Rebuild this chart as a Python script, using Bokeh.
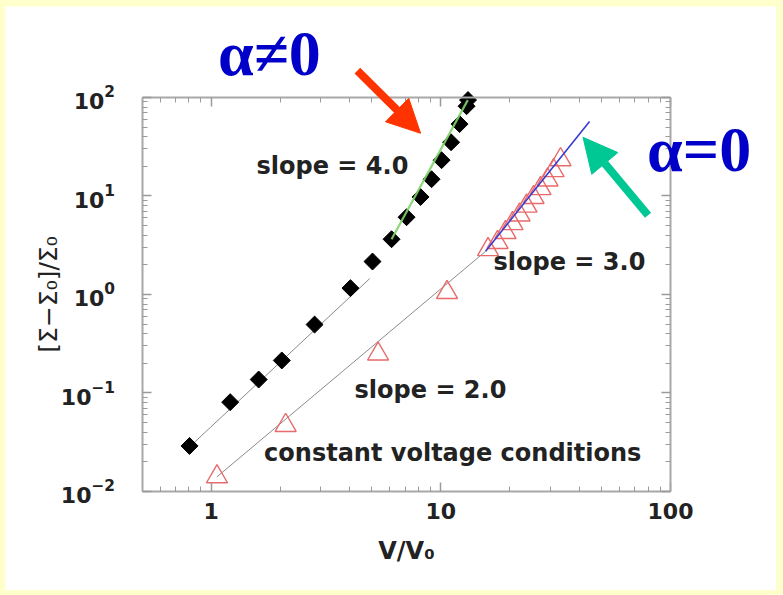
import numpy as np
from bokeh.plotting import figure
from bokeh.models import (LogAxis, FixedTicker, LogTickFormatter, BasicTickFormatter,
                          CustomJSTickFormatter, Label, Arrow, NormalHead, Range1d)
from bokeh.embed import file_html
from bokeh.resources import INLINE

# ---------------- data ----------------
diamond_v = [0.805, 1.21, 1.61, 2.03, 2.82, 4.04, 5.04, 6.10, 7.09, 8.16,
             9.11, 10.07, 11.08, 12.06, 12.94, 13.13]
diamond_s = [0.029, 0.0807, 0.137, 0.214, 0.495, 1.16, 2.16, 3.64, 6.09, 9.77,
             14.8, 23.1, 35.1, 53.7, 81.6, 94.2]

triangle_v = [1.06, 2.11, 5.33, 10.64, 16.05, 17.65, 19.12, 20.52, 22.01, 23.61,
              25.33, 27.16, 29.14, 30.95, 33.2]
triangle_s = [0.01414, 0.0469, 0.249, 1.05, 2.86, 3.38, 4.27, 5.25, 6.43, 7.90,
              9.68, 11.89, 14.57, 18.1, 23.4]

# fitted power-law lines (end points)
fit_black_v = [0.80, 4.90]
fit_black_s = [0.028, 1.45]
fit_green_v = [6.10, 13.1]
fit_green_s = [3.64, 94.0]
fit_tri_v = [1.06, 15.65]
fit_tri_s = [0.0141, 2.74]
fit_blue_v = [15.65, 44.4]
fit_blue_s = [2.74, 57.2]

# axis box limits and ticks
x_box = (0.5, 100)
y_box = (0.01, 100)
x_major = [1, 10, 100]
x_minor = [0.5, 0.6, 0.7, 0.8, 0.9, 2, 3, 4, 5, 6, 7, 8, 9,
           20, 30, 40, 50, 60, 70, 80, 90]
y_major = [0.01, 0.1, 1, 10, 100]
y_minor = [m * d for d in [0.01, 0.1, 1, 10] for m in range(2, 10)]

# visible (canvas-wide) ranges so that the annotations outside the axis box show
x_view = (0.1272, 289.3)
y_view = (0.000988, 839.0)

# ---------------- figure ----------------
p = figure(width=771, height=584, x_axis_type="log", y_axis_type="log",
           x_axis_location=None, y_axis_location=None,
           x_range=Range1d(*x_view), y_range=Range1d(*y_view),
           output_backend="svg", toolbar_location=None, min_border=0)
p.background_fill_color = "white"
p.border_fill_color = "white"
p.outline_line_color = None
p.grid.visible = False

TICK = "#9a9a9a"
FONT = "DejaVu Sans"


def style_axis(ax):
    ax.major_tick_in = 9
    ax.major_tick_out = 0
    ax.minor_tick_in = 5
    ax.minor_tick_out = 0
    ax.major_tick_line_color = TICK
    ax.minor_tick_line_color = TICK
    ax.major_tick_line_width = 1.5
    ax.minor_tick_line_width = 1
    ax.axis_line_color = "#a8a8a8"
    ax.axis_line_width = 2
    ax.major_label_text_font = FONT
    ax.major_label_text_font_style = "bold"
    ax.major_label_text_font_size = "22px"
    ax.major_label_text_color = "#222222"
    ax.axis_label_text_font = FONT
    ax.axis_label_text_font_style = "bold"
    ax.axis_label_text_color = "#222222"


blank = CustomJSTickFormatter(code="return ''")

xa = LogAxis(ticker=FixedTicker(ticks=x_major, minor_ticks=x_minor),
             formatter=BasicTickFormatter(), fixed_location=y_box[0], bounds=x_box)
style_axis(xa)
xa.major_label_standoff = 12
xa.axis_label = "V/V\u2080"
xa.axis_label_text_font_size = "24px"
xa.axis_label_standoff = 14
p.add_layout(xa, "below")

ya = LogAxis(ticker=FixedTicker(ticks=y_major, minor_ticks=y_minor),
             formatter=LogTickFormatter(), fixed_location=x_box[0], bounds=y_box)
style_axis(ya)
ya.major_label_standoff = 27
ya.axis_label = "[\u03a3\u2212\u03a3\u2080]/\u03a3\u2080"
ya.axis_label_text_font_size = "25px"
ya.axis_label_text_font_style = "normal"
ya.axis_label_standoff = -5
p.add_layout(ya, "left")

top = LogAxis(ticker=FixedTicker(ticks=x_major, minor_ticks=x_minor), formatter=blank,
              fixed_location=y_box[1], bounds=x_box)
style_axis(top)
top.major_label_standoff = 0
p.add_layout(top, "above")

right = LogAxis(ticker=FixedTicker(ticks=y_major, minor_ticks=y_minor), formatter=blank,
                fixed_location=x_box[1], bounds=y_box)
style_axis(right)
right.major_label_standoff = 0
p.add_layout(right, "right")

# ---------------- glyphs ----------------
p.line(fit_black_v, fit_black_s, line_color="#8a8a8a", line_width=1)
p.line(fit_tri_v, fit_tri_s, line_color="#8a8a8a", line_width=1)

p.scatter(diamond_v, diamond_s, marker="square", angle=np.pi / 4, size=12,
          fill_color="black", line_color="black")
p.line(fit_green_v, fit_green_s, line_color="#7fd36a", line_width=2.2, line_alpha=0.9)

p.scatter(triangle_v, triangle_s, marker="triangle", size=21,
          fill_color=None, line_color="#e86a6a", line_width=1.4)
p.line(fit_blue_v, fit_blue_s, line_color="#3a3ad0", line_width=1.6)

# ---------------- annotations ----------------
for txt, x, y in [("slope = 4.0", 1.576, 20.35),
                  ("slope = 3.0", 16.96, 2.12),
                  ("slope = 2.0", 4.21, 0.1073),
                  ("constant voltage conditions", 1.70, 0.0248)]:
    p.add_layout(Label(x=x, y=y, text=txt, text_font=FONT, text_font_style="bold",
                       text_font_size="24px", text_color="#222222",
                       text_align="left", text_baseline="middle"))

for txt, x, y in [("\u03b1\u22600", 1.07, 278.0), ("\u03b1=0", 79.0, 29.5)]:
    p.add_layout(Label(x=x, y=y, text=txt, text_font="Liberation Serif",
                       text_font_style="bold", text_font_size="64px",
                       text_color="#0000c8", text_align="left", text_baseline="middle"))

red = "#ff3300"
p.add_layout(Arrow(end=NormalHead(size=33, fill_color=red, line_color=red),
                   x_start=4.33, y_start=187.5, x_end=8.16, y_end=43.3,
                   line_color=red, line_width=8))
green = "#00c894"
p.add_layout(Arrow(end=NormalHead(size=34, fill_color=green, line_color=green),
                   x_start=79.8, y_start=6.37, x_end=41.6, y_end=39.4,
                   line_color=green, line_width=8))

html = file_html(p, INLINE)
html = html.replace("</head>",
                    "<style>html, body {background: #ffffcc;} body {padding: 6px 0 0 5px;}</style></head>", 1)
open("out.html", "w").write(html)
